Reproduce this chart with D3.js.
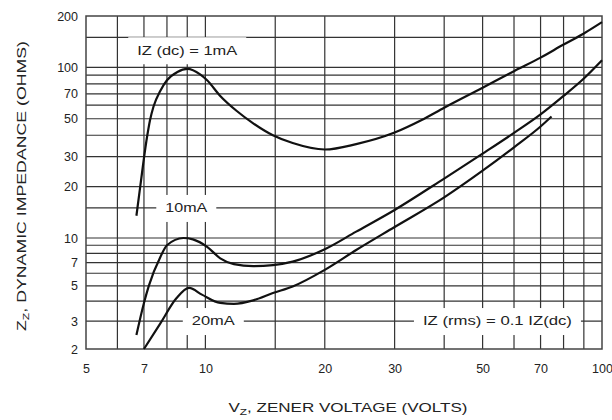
<!DOCTYPE html>
<html>
<head>
<meta charset="utf-8">
<script src="https://cdn.jsdelivr.net/npm/d3@7"></script>
<style>
  body { margin: 0; background: #fff; }
  text { font-family: "Liberation Sans", Arial, sans-serif; fill: #222; }
</style>
</head>
<body>
<div id="chart"></div>
<script>
// tick labels and grid values
var xTicks = [5, 7, 10, 20, 30, 50, 70, 100]
var yTicks = [2, 3, 5, 7, 10, 20, 30, 50, 70, 100, 200]
var xGrid = [6, 7, 8, 9, 10, 15, 20, 30, 40, 50, 60, 70, 80, 90]
var yGrid = [3, 4, 5, 6, 7, 8, 9, 10, 15, 20, 30, 40, 50, 60, 70, 80, 90, 100, 150]

// IZ(dc) = 1mA
var vz1mA = [6.7, 6.85, 7.1, 7.25, 7.4, 7.7, 8.0, 8.5, 9.0, 9.7, 10.1, 10.9, 12.0, 13.2, 14.8, 16.6, 20, 24, 30, 35, 40, 50, 60, 70, 80, 90, 100]
var zz1mA = [13.5, 20, 37, 49, 59, 73, 84, 94, 98, 91, 84, 68, 55.5, 47, 40, 36, 33, 35.5, 41.5, 49, 58, 76, 95, 114, 136, 158, 184]
// 10mA
var vz10mA = [6.7, 7.0, 7.2, 7.7, 8.0, 8.8, 9.3, 10.1, 10.9, 11.8, 13.2, 14.8, 16.6, 20, 24, 30, 40, 50, 60, 70, 80, 90, 100]
var zz10mA = [2.45, 3.9, 5.0, 7.6, 9.0, 10.0, 9.8, 8.8, 7.45, 6.85, 6.65, 6.75, 7.1, 8.5, 10.9, 14.6, 22.3, 31.2, 41.3, 53, 68, 86, 110]
// 20mA
var vz20mA = [7.0, 7.7, 8.45, 9.1, 9.8, 10.9, 11.8, 13.2, 14.8, 16.6, 20, 24, 30, 40, 50, 60, 70, 74.6]
var zz20mA = [2.0, 2.9, 4.17, 4.85, 4.4, 3.9, 3.85, 4.05, 4.5, 4.95, 6.3, 8.4, 11.6, 17.3, 24.8, 34, 45, 51.5]

// curve labels, anchored in data units
var labelText = ["IZ (dc) = 1mA", "10mA", "20mA", "IZ (rms) = 0.1 IZ(dc)"]
var labelV = [9.0, 8.95, 10.47, 54.5]
var labelZ = [126, 15, 3, 3]
var labelW = [100, 42, 43, 149]

var width = 612, height = 420

var x = d3.scaleLog().domain([5, 100]).range([86, 602])
var y = d3.scaleLog().domain([2, 10, 200]).range([349, 238, 16])

var svg = d3.select("#chart").append("svg")
  .attr("width", width)
  .attr("height", height)

// grid
svg.append("g").selectAll("line")
  .data(xGrid)
  .enter().append("line")
  .attr("x1", d => x(d)).attr("x2", d => x(d))
  .attr("y1", y(200)).attr("y2", y(2))
  .attr("stroke", "#333").attr("stroke-width", 1.2)

svg.append("g").selectAll("line")
  .data(yGrid)
  .enter().append("line")
  .attr("x1", x(5)).attr("x2", x(100))
  .attr("y1", d => y(d)).attr("y2", d => y(d))
  .attr("stroke", "#333").attr("stroke-width", 1.2)

svg.append("rect")
  .attr("x", x(5)).attr("y", y(200))
  .attr("width", x(100) - x(5)).attr("height", y(2) - y(200))
  .attr("fill", "none").attr("stroke", "#444").attr("stroke-width", 1.5)

// labels sit in white gaps of the grid
var labels = svg.append("g").selectAll("g")
  .data(labelText.map((t, i) => ({text: t, v: labelV[i], z: labelZ[i], w: labelW[i]})))
  .enter().append("g")

labels.append("rect")
  .attr("x", d => x(d.v) - d.w / 2 - 9)
  .attr("y", d => y(d.z) - 13)
  .attr("width", d => d.w + 18)
  .attr("height", 27)
  .attr("fill", "#fff")

// curves
var line = d3.line()
  .x(d => x(d[0]))
  .y(d => y(d[1]))
  .curve(d3.curveMonotoneX)

var series = [d3.zip(vz1mA, zz1mA), d3.zip(vz10mA, zz10mA), d3.zip(vz20mA, zz20mA)]
svg.append("g").selectAll("path")
  .data(series)
  .enter().append("path")
  .attr("d", line)
  .attr("fill", "none")
  .attr("stroke", "#111")
  .attr("stroke-width", 2.2)
  .attr("stroke-linejoin", "round")

labels.append("text")
  .attr("x", d => x(d.v))
  .attr("y", d => y(d.z))
  .attr("dy", "0.36em")
  .attr("text-anchor", "middle")
  .attr("font-size", 12)
  .attr("textLength", d => d.w)
  .attr("lengthAdjust", "spacingAndGlyphs")
  .text(d => d.text)

// axes (labels only)
var xAxis = d3.axisBottom(x).tickValues(xTicks).tickFormat(d3.format("d")).tickSize(0).tickPadding(15)
svg.append("g")
  .attr("class", "axis axis-x")
  .attr("transform", "translate(0," + y(2) + ")")
  .call(xAxis)

var yAxis = d3.axisLeft(y).tickValues(yTicks).tickFormat(d3.format("d")).tickSize(0).tickPadding(8)
svg.append("g")
  .attr("class", "axis axis-y")
  .attr("transform", "translate(" + x(5) + ",0)")
  .call(yAxis)

svg.selectAll(".axis .domain").remove()
svg.selectAll(".axis text")
  .attr("font-family", null)
  .attr("font-size", 12.5)
  .attr("fill", "#222")

// axis titles
var xTitle = svg.append("text")
  .attr("x", 348).attr("y", 412)
  .attr("text-anchor", "middle")
  .attr("font-size", 13)
  .attr("textLength", 239)
  .attr("lengthAdjust", "spacingAndGlyphs")
xTitle.append("tspan").text("V")
xTitle.append("tspan").attr("font-size", 9).attr("dy", 3).text("Z")
xTitle.append("tspan").attr("dy", -3).text(", ZENER VOLTAGE (VOLTS)")

var yTitle = svg.append("text")
  .attr("transform", "translate(26,186) rotate(-90)")
  .attr("text-anchor", "middle")
  .attr("font-size", 13)
  .attr("textLength", 290)
  .attr("lengthAdjust", "spacingAndGlyphs")
yTitle.append("tspan").text("Z")
yTitle.append("tspan").attr("font-size", 9).attr("dy", 3).text("Z")
yTitle.append("tspan").attr("dy", -3).text(", DYNAMIC IMPEDANCE (OHMS)")
</script>
</body>
</html>
